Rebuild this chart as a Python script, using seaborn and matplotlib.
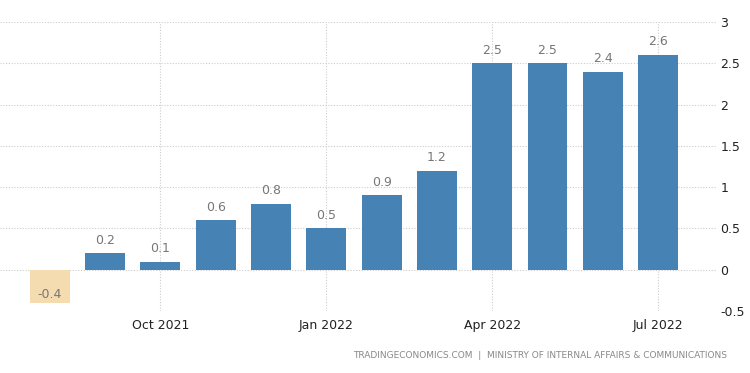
import numpy as np
import pandas as pd
import matplotlib.pyplot as plt
import seaborn as sns

# Monthly values, Aug 2021 - Jul 2022
months = ['Aug 2021', 'Sep 2021', 'Oct 2021', 'Nov 2021', 'Dec 2021', 'Jan 2022',
          'Feb 2022', 'Mar 2022', 'Apr 2022', 'May 2022', 'Jun 2022', 'Jul 2022']
values = [-0.4, 0.2, 0.1, 0.6, 0.8, 0.5, 0.9, 1.2, 2.5, 2.5, 2.4, 2.6]
tick_labels = ['Oct 2021', 'Jan 2022', 'Apr 2022', 'Jul 2022']
y_ticks = [-0.5, 0, 0.5, 1, 1.5, 2, 2.5, 3]

df = pd.DataFrame({'month': months, 'value': values})
df['sign'] = np.where(df['value'] < 0, 'neg', 'pos')

sns.set_style('white')
plt.rcParams['font.family'] = ['DejaVu Sans']

fig = plt.figure(figsize=(7.5, 3.73), dpi=100)
ax = fig.add_axes([0.0, 0.166, 0.955, 0.775])

sns.barplot(data=df, x='month', y='value', hue='sign',
            palette={'pos': '#4682b4', 'neg': '#f5dbb0'},
            width=0.72, dodge=False, legend=False, ax=ax, saturation=1,
            linewidth=0)

ax.set_ylim(-0.5, 3)
ax.set_xlim(-0.9, 12.05)

# value labels
for i, v in enumerate(values):
    if v >= 0:
        ax.text(i, v + 0.08, f'{v:g}', ha='center', va='bottom', fontsize=9, color='#777777')
    else:
        ax.text(i, v + 0.1, f'{v:g}', ha='center', va='center', fontsize=9, color='#777777')

# axes styling
ax.yaxis.tick_right()
ax.set_yticks(y_ticks)
ax.set_yticklabels([f'{t:g}' for t in y_ticks])
tick_pos = [months.index(m) for m in tick_labels]
ax.set_xticks(tick_pos)
ax.set_xticklabels(tick_labels)
ax.tick_params(axis='both', length=0, labelsize=9, colors='#222222')
ax.tick_params(axis='y', pad=3)
ax.tick_params(axis='x', pad=6)
for lbl in ax.get_yticklabels():
    lbl.set_horizontalalignment('left')
ax.set_xlabel('')
ax.set_ylabel('')
for s in ax.spines.values():
    s.set_visible(False)

ax.grid(True, axis='both', linestyle=(0, (1, 1.5)), color='#cccccc', linewidth=0.8)
ax.set_axisbelow(True)

fig.text(0.969, 0.035, 'TRADINGECONOMICS.COM  |  MINISTRY OF INTERNAL AFFAIRS & COMMUNICATIONS',
         ha='right', va='bottom', fontsize=6.5, color='#888888')

fig.savefig('out.png', dpi=100)
